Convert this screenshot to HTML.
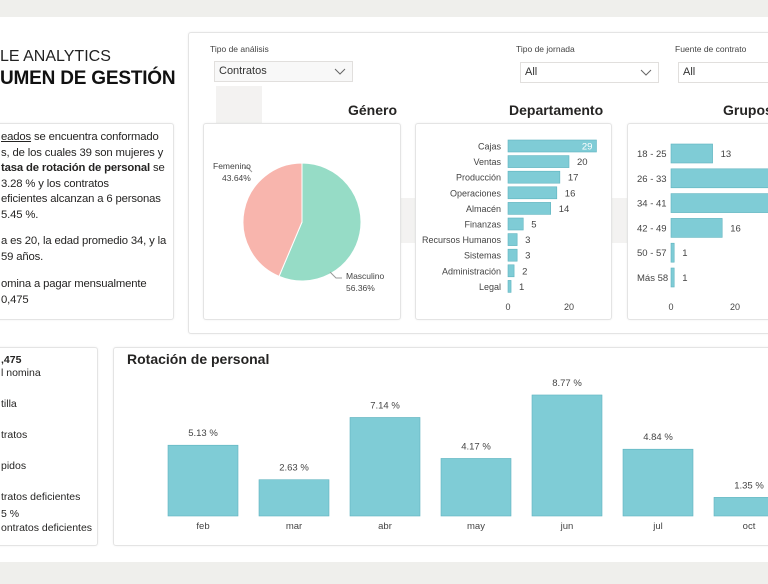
<!DOCTYPE html>
<html><head><meta charset="utf-8">
<style>
body{margin:0;width:768px;height:584px;overflow:hidden;background:#efefec;font-family:"Segoe UI","Liberation Sans",sans-serif;color:#252423;position:relative}
.abs{position:absolute}
.card{position:absolute;background:#fff;border:1px solid #e4e4e4;border-radius:3px;box-shadow:0 0 2px rgba(0,0,0,.06)}
.t{position:absolute;white-space:nowrap;font-size:12px}
.dd{position:absolute;background:#fff;border:1px solid #e1dfdd;font-size:11px;color:#333;box-sizing:border-box;padding:3px 4px}
.dd svg{position:absolute;right:6px;top:6px}
.lbl{position:absolute;font-size:8.5px;color:#444}
h3{position:absolute;margin:0;font-size:14px;font-weight:bold;white-space:nowrap}
</style></head><body>
<div class="abs" style="left:0;top:17px;width:768px;height:545px;background:#fff"></div>
<div class="t" style="left:0;top:48px;font-size:16px;color:#222">LE ANALYTICS</div>
<div class="t" style="left:0;top:68px;font-size:19px;font-weight:bold;color:#111;letter-spacing:-.2px">UMEN DE GESTIÓN</div>

<div class="card" style="left:-4px;top:123px;width:176px;height:195px;font-size:11.3px;line-height:15.5px;letter-spacing:-.15px">
<div class="t" style="left:4px;top:6px;line-height:15.5px;font-size:11.3px">
<span style="text-decoration:underline">eados</span> se encuentra conformado<br>s, de los cuales 39 son mujeres y<br><b>tasa de rotación de personal</b> se<br>3.28 % y los contratos<br>eficientes alcanzan a 6 personas<br>5.45 %.</div>
<div class="t" style="left:4px;top:110px;line-height:15.5px;font-size:11.3px">a es 20, la edad promedio 34, y la<br>59 años.</div>
<div class="t" style="left:4px;top:153px;line-height:15.5px;font-size:11.3px">omina a pagar mensualmente<br>0,475</div>
</div>

<div class="card" style="left:-4px;top:347px;width:100px;height:197px;font-size:10.5px">
<div class="t" style="left:4px;top:6px;font-size:10.5px;font-weight:bold">,475</div>
<div class="t" style="left:4px;top:19px;font-size:10.5px">l nomina</div>
<div class="t" style="left:4px;top:50px;font-size:10.5px">tilla</div>
<div class="t" style="left:4px;top:81px;font-size:10.5px">tratos</div>
<div class="t" style="left:4px;top:112px;font-size:10.5px">pidos</div>
<div class="t" style="left:4px;top:143px;font-size:10.5px">tratos deficientes</div>
<div class="t" style="left:4px;top:160px;font-size:10.5px">5 %</div>
<div class="t" style="left:4px;top:174px;font-size:10.5px">ontratos deficientes</div>
</div>

<div class="card" style="left:188px;top:32px;width:600px;height:300px"></div>
<div class="abs" style="left:216px;top:86px;width:46px;height:40px;background:#f3f2f1"></div>
<div class="abs" style="left:392px;top:198px;width:240px;height:45px;background:#f3f2f1"></div>

<div class="lbl" style="left:210px;top:44px">Tipo de análisis</div>
<div class="dd" style="left:214px;top:61px;width:139px;height:21px;background:#f8f8f8">Contratos<svg width="12" height="8"><path d="M1 1l5 5 5-5" fill="none" stroke="#666"/></svg></div>
<div class="lbl" style="left:516px;top:44px">Tipo de jornada</div>
<div class="dd" style="left:520px;top:62px;width:139px;height:21px">All<svg width="12" height="8"><path d="M1 1l5 5 5-5" fill="none" stroke="#666"/></svg></div>
<div class="lbl" style="left:675px;top:44px">Fuente de contrato</div>
<div class="dd" style="left:678px;top:62px;width:120px;height:21px">All</div>

<h3 style="left:348px;top:102px">Género</h3>
<h3 style="left:509px;top:102px">Departamento</h3>
<h3 style="left:723px;top:102px">Grupos</h3>

<div class="card" style="left:203px;top:123px;width:196px;height:195px"></div>
<div class="card" style="left:415px;top:123px;width:195px;height:195px"></div>
<div class="card" style="left:627px;top:123px;width:160px;height:195px"></div>
<div class="card" style="left:113px;top:347px;width:680px;height:197px"></div>
<h3 style="left:127px;top:351px;font-size:14px">Rotación de personal</h3>

<svg id="chart" class="abs" style="left:0;top:0" width="768" height="584" font-family="Segoe UI, Liberation Sans, sans-serif"></svg>
<script>
const genderLabels=["Masculino","Femenino"];
const genderValues=[56.36,43.64];
const deptNames=["Cajas","Ventas","Producción","Operaciones","Almacén","Finanzas","Recursos Humanos","Sistemas","Administración","Legal"];
const deptValues=[29,20,17,16,14,5,3,3,2,1];
const deptTicks=[0,20];
const ageNames=["18 - 25","26 - 33","34 - 41","42 - 49","50 - 57","Más 58"];
const ageValues=[13,40,39,16,1,1];
const ageTicks=[0,20];
const months=["feb","mar","abr","may","jun","jul","oct"];
const rotValues=[5.13,2.63,7.14,4.17,8.77,4.84,1.35];
const NS="http://www.w3.org/2000/svg";
const svg=document.getElementById('chart');
function mk(tag,attrs,parent){const e=document.createElementNS(NS,tag);for(const k in attrs)e.setAttribute(k,attrs[k]);(parent||svg).appendChild(e);return e;}
function txt(x,y,s,attrs){const e=mk('text',Object.assign({x:x,y:y,'font-size':9,fill:'#444'},attrs||{}));e.textContent=s;return e;}
const TEAL="#7fccd6",TEALS="#5fb3bf";
const cx=302,cy=222,r=59;const colors=["#96dcc6","#f8b5ad"];
let a0=0;const tot=genderValues.reduce((a,b)=>a+b,0);
genderValues.forEach((v,i)=>{const a1=a0+v/tot*2*Math.PI;
 const x0=cx+r*Math.sin(a0),y0=cy-r*Math.cos(a0),x1=cx+r*Math.sin(a1),y1=cy-r*Math.cos(a1);
 const p=mk('path',{d:`M${cx} ${cy}L${x0} ${y0}A${r} ${r} 0 ${a1-a0>Math.PI?1:0} 1 ${x1} ${y1}Z`,fill:colors[i],stroke:'#fff','stroke-width':1});
 
 
 a0=a1;});
mk('path',{d:`M330 272l6 6h6`,stroke:'#999',fill:'none'});
txt(346,279,genderLabels[0],{'font-size':8.5});txt(346,291,genderValues[0].toFixed(2)+"%",{'font-size':8.5});
mk('path',{d:`M252 172l-4 -4h-4`,stroke:'#999',fill:'none'});
txt(213,169,genderLabels[1],{'font-size':8.5});txt(222,181,genderValues[1].toFixed(2)+"%",{'font-size':8.5});
const dX0=508,dS=3.05,dY0=140,dStep=15.6,dH=12;
deptNames.forEach((n,i)=>{const y=dY0+i*dStep;const w=deptValues[i]*dS;
 const b=mk('rect',{x:dX0,y:y,width:w,height:dH,fill:TEAL,stroke:TEALS,'stroke-width':.6});
 
 
 txt(501,y+9.5,n,{'text-anchor':'end','font-size':9});
 if(i===0) txt(dX0+w-4,y+9.5,deptValues[i],{'text-anchor':'end',fill:'#fff','font-size':9.5});
 else txt(dX0+w+8,y+9.5,deptValues[i],{'font-size':9.5});});
deptTicks.forEach(t=>txt(dX0+t*dS,310,t,{'text-anchor':'middle','font-size':9}));
const gX0=671,gS=3.2,gY0=144,gStep=24.8,gH=19;
ageNames.forEach((n,i)=>{const y=gY0+i*gStep;const w=ageValues[i]*gS;
 const b=mk('rect',{x:gX0,y:y,width:w,height:gH,fill:TEAL,stroke:TEALS,'stroke-width':.6});
 
 
 txt(637,y+13,n,{'font-size':9.5});
 txt(gX0+w+8,y+13,ageValues[i],{'font-size':9.5});});
ageTicks.forEach(t=>txt(gX0+t*gS,310,t,{'text-anchor':'middle','font-size':9}));
const base=516,rS=13.8,rX0=203,rStep=91,rW=70;
months.forEach((mo,i)=>{const cxm=rX0+i*rStep;const h=rotValues[i]*rS;
 const b=mk('rect',{x:cxm-rW/2,y:base-h,width:rW,height:h,fill:TEAL,stroke:TEALS,'stroke-width':.6});
 
 
 txt(cxm,base-h-9,rotValues[i].toFixed(2)+" %",{'text-anchor':'middle','font-size':9.5});
 txt(cxm,529,mo,{'text-anchor':'middle','font-size':9.5});});
</script>
</body></html>
